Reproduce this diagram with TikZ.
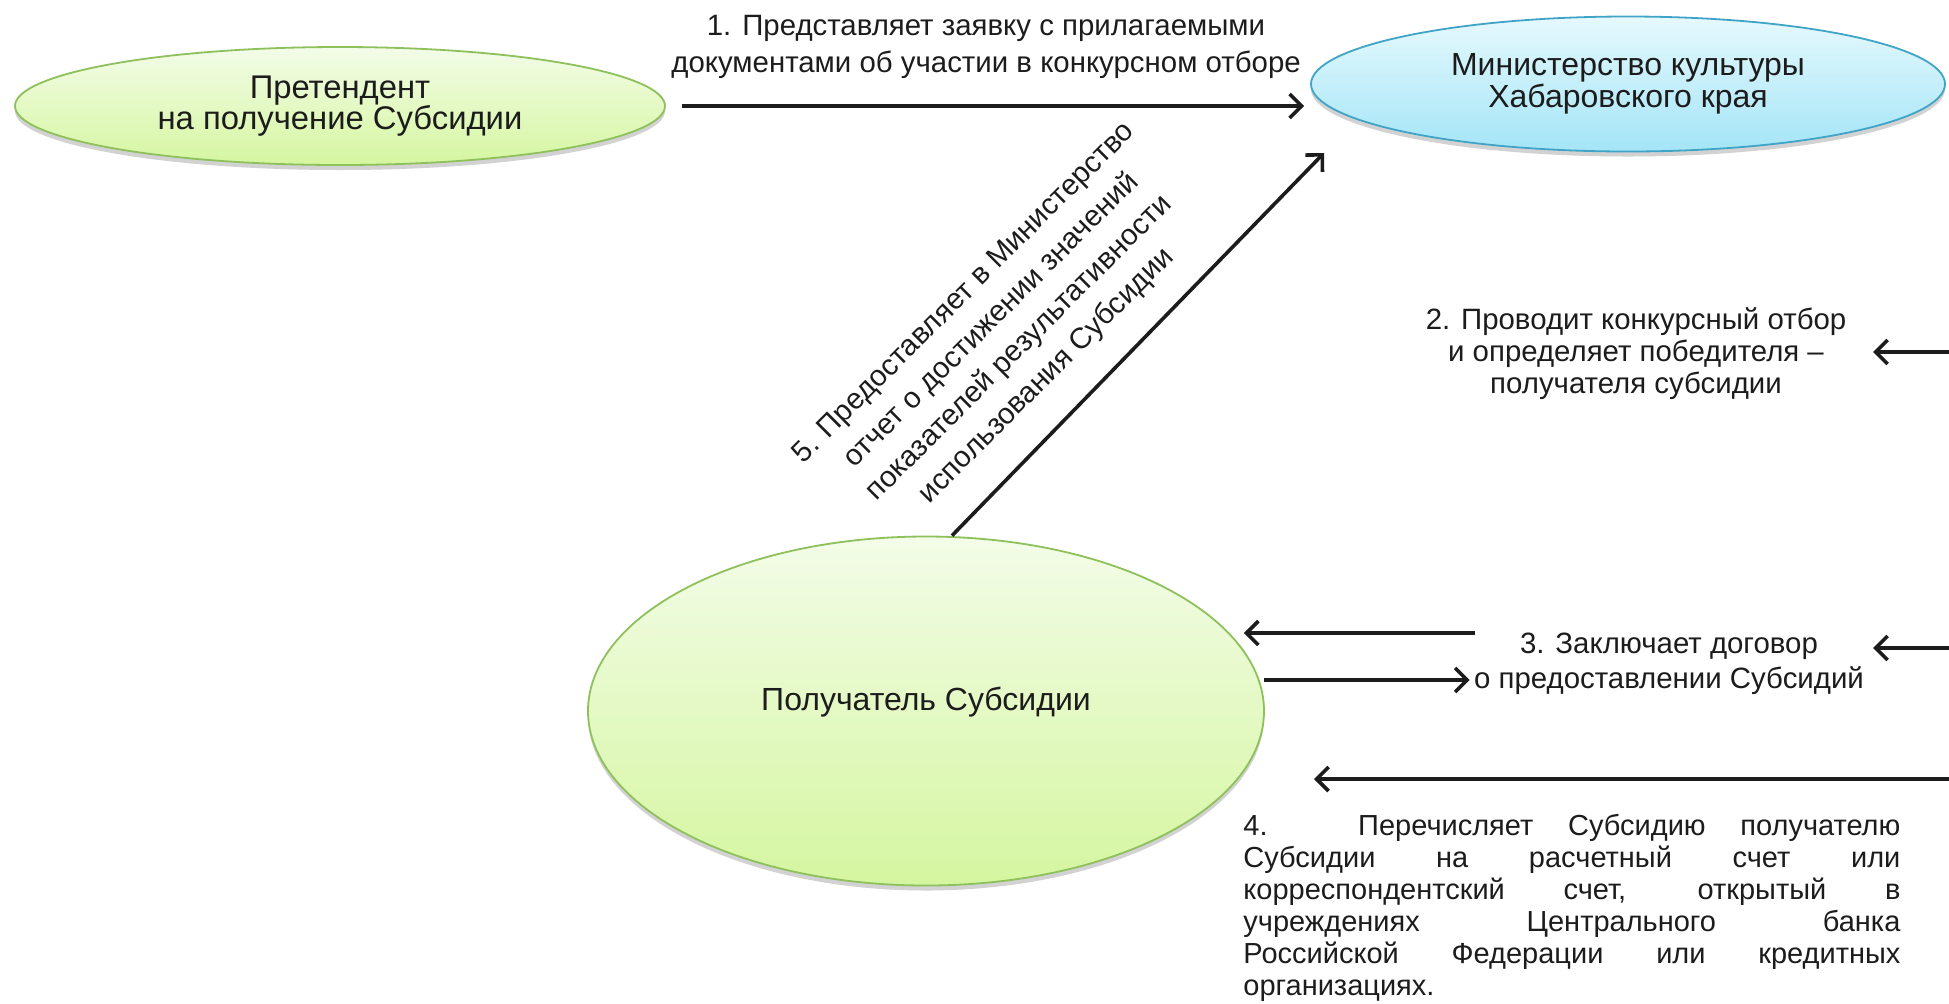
\documentclass[tikz,border=0pt]{standalone}
\usepackage{fontspec}
\setmainfont{Liberation Sans}
\usetikzlibrary{shapes.geometric,arrows.meta,shadows,calc}
\definecolor{ink}{HTML}{1C1C1C}
\definecolor{gtop}{HTML}{F3FCE8}
\definecolor{gbot}{HTML}{D5F6A0}
\definecolor{gline}{HTML}{8EC05C}
\definecolor{btop}{HTML}{E6F9FD}
\definecolor{bbot}{HTML}{A4E5F7}
\definecolor{bline}{HTML}{40A4C6}
\begin{document}
\begin{tikzpicture}[x=0.5pt,y=-0.5pt,
  ell/.style={ellipse, inner sep=0pt, align=center, text=ink, line width=0.9pt,
    drop shadow={shadow xshift=0pt, shadow yshift=-2.5pt, opacity=0.25, fill=black!70}},
  gell/.style={ell, draw=gline, top color=gtop, bottom color=gbot},
  bell/.style={ell, draw=bline, top color=btop, bottom color=bbot},
  lbl/.style={text=ink, align=center, inner sep=0pt},
  arr/.style={draw=ink, line width=1.8pt, -{Straight Barb[length=6pt,width=12pt]}}
]
\useasboundingbox (0,0) rectangle (1949,1003);
\fill[white] (0,0) rectangle (1949,1003);

% nodes
\node[gell, minimum width=325pt, minimum height=59pt,
      font=\fontsize{16.4}{15.5}\selectfont] (pret) at (340,106)
  {Претендент\\на получение Субсидии};
\node[bell, minimum width=317pt, minimum height=67.5pt,
      font=\fontsize{16}{15}\selectfont] (mins) at (1628,84)
  {Министерство культуры\\Хабаровского края};
\node[gell, minimum width=338pt, minimum height=174.5pt,
      font=\fontsize{16}{16}\selectfont] (pol) at (926,711)
  {\raisebox{4.5pt}[0.75em][0.2em]{Получатель Субсидии}};

% labels
\node[lbl, font=\fontsize{14.7}{18.5}\selectfont] (l1) at (986,47)
  {1. Представляет заявку с прилагаемыми\\документами об участии в конкурсном отборе};
\node[lbl, font=\fontsize{14.7}{16}\selectfont] (l2) at (1636,354)
  {2. Проводит конкурсный отбор\\и определяет победителя –\\получателя субсидии};
\node[lbl, font=\fontsize{14.7}{17.5}\selectfont] (l3) at (1669,664)
  {3. Заключает договор\\о предоставлении Субсидий};
\node[lbl, rotate=45, font=\fontsize{14.7}{19.5}\selectfont] (l5) at (1006,335)
  {5. Предоставляет в Министерство\\отчет о достижении значений\\показателей результативности\\использования Субсидии};
\node[lbl, anchor=north west, text width=328.5pt, align=justify,
      font=\fontsize{14.5}{16}\selectfont] (l4) at (1243,814)
  {\tolerance=10000\hbadness=10000\hyphenpenalty=10000
   4. Перечисляет Субсидию получателю\linebreak
   Субсидии на расчетный счет или\linebreak
   корреспондентский счет, открытый в\linebreak
   учреждениях Центрального банка\linebreak
   Российской Федерации или кредитных\linebreak
   организациях.};

% free ends
\coordinate (a5e) at (1324,153);
\coordinate (r2) at (1949,352);
\coordinate (a2e) at (1873,352);
\coordinate (a3s) at (1475,633);
\coordinate (a3b) at (1264,680);
\coordinate (r3) at (1949,648);
\coordinate (a3e) at (1873,648);
\coordinate (r4) at (1949,779);
\coordinate (a4e) at (1314,779);

% connectors
\draw[arr] ([xshift=8pt]pret.east) -- ([xshift=-3pt]pret.east -| mins.west);
\draw[arr] ([xshift=13pt]pol.north) -- (a5e);
\draw[arr] (r2) -- (a2e);
\draw[arr] (a3s) -- ([xshift=-10.5pt]a3s -| pol.east);
\draw[arr, shorten >=2pt] (a3b) -- (a3b -| l3.west);
\draw[arr] (r3) -- (a3e);
\draw[arr] (r4) -- (a4e);
\end{tikzpicture}
\end{document}
